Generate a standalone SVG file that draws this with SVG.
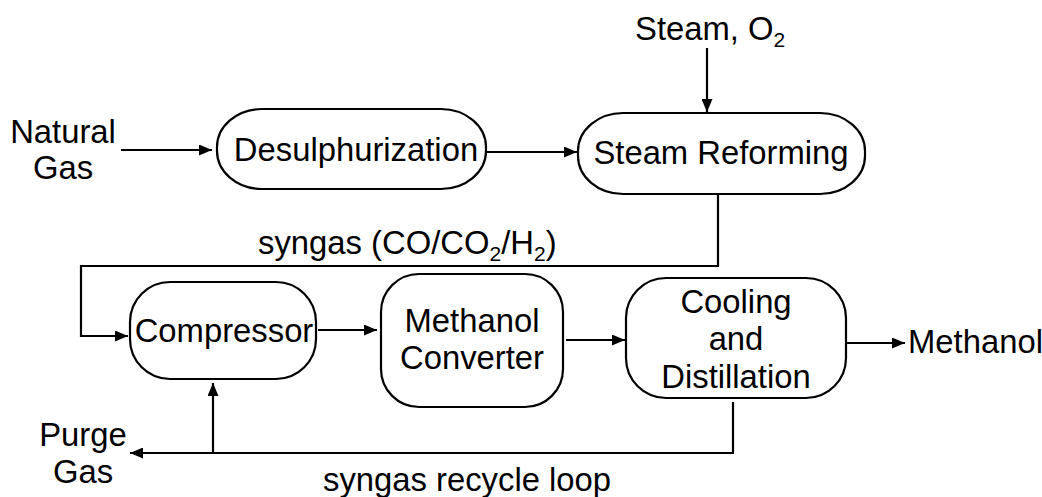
<svg xmlns="http://www.w3.org/2000/svg" width="1042" height="497" viewBox="0 0 1042 497">
<style>
.box{fill:#fff;stroke:#000;stroke-width:2.2}
.t{font-family:"Liberation Sans",Arial,sans-serif;font-size:32.8px;fill:#000}
.m{text-anchor:middle}
.c{fill:none;stroke:#000;stroke-width:2.2}
.sub{font-size:21px}
</style>
<defs>
<marker id="ah" viewBox="0 0 13 11" refX="13" refY="5.5" markerWidth="13" markerHeight="11" markerUnits="userSpaceOnUse" orient="auto">
<path d="M0,0 L13,5.5 L0,11 Z" fill="#000"/>
</marker>
</defs>
<rect width="1042" height="497" fill="#fff"/>
<g id="connectors">
<line class="c" x1="121" y1="150" x2="212" y2="150" marker-end="url(#ah)"/>
<line class="c" x1="707" y1="48" x2="707" y2="112" marker-end="url(#ah)"/>
<line class="c" x1="487" y1="152" x2="577" y2="152" marker-end="url(#ah)"/>
<polyline class="c" points="718,194 718,266 81,266 81,336 128,336" marker-end="url(#ah)"/>
<line class="c" x1="318" y1="330" x2="377" y2="330" marker-end="url(#ah)"/>
<line class="c" x1="566" y1="340" x2="625" y2="340" marker-end="url(#ah)"/>
<line class="c" x1="846" y1="343" x2="905" y2="343" marker-end="url(#ah)"/>
<polyline class="c" points="733,402 733,453 130,453" marker-end="url(#ah)"/>
<line class="c" x1="213" y1="453" x2="213" y2="383" marker-end="url(#ah)"/>
</g>
<g id="natural-gas">
<text class="t m" x="63" y="143">Natural</text>
<text class="t m" x="63" y="179">Gas</text>
</g>
<g id="steam-o2">
<text class="t" x="635" y="40">Steam, O<tspan class="sub" dy="7">2</tspan></text>
</g>
<g id="desulphurization">
<rect class="box" x="217" y="109" width="269" height="80" rx="45" ry="38"/>
<text class="t m" x="356" y="161">Desulphurization</text>
</g>
<g id="steam-reforming">
<rect class="box" x="578" y="113" width="287" height="81" rx="45" ry="38"/>
<text class="t m" x="721" y="164">Steam Reforming</text>
</g>
<g id="syngas-label">
<text class="t" x="258" y="254">syngas (CO/CO<tspan class="sub" dy="7">2</tspan><tspan dy="-7">/H</tspan><tspan class="sub" dy="7">2</tspan><tspan dy="-7">)</tspan></text>
</g>
<g id="compressor">
<rect class="box" x="130" y="282" width="186" height="97" rx="40" ry="40"/>
<text class="t m" x="224" y="342">Compressor</text>
</g>
<g id="methanol-converter">
<rect class="box" x="381" y="274" width="182" height="133" rx="38" ry="38"/>
<text class="t m" x="472" y="332">Methanol</text>
<text class="t m" x="472" y="369">Converter</text>
</g>
<g id="cooling-distillation">
<rect class="box" x="626" y="278" width="220" height="120" rx="40" ry="40"/>
<text class="t m" x="736" y="313">Cooling</text>
<text class="t m" x="736" y="350">and</text>
<text class="t m" x="736" y="388">Distillation</text>
</g>
<g id="methanol-out">
<text class="t" x="908" y="353">Methanol</text>
</g>
<g id="purge-gas">
<text class="t m" x="83" y="446">Purge</text>
<text class="t m" x="83" y="483">Gas</text>
</g>
<g id="recycle-label">
<text class="t" x="323" y="491">syngas recycle loop</text>
</g>
</svg>
